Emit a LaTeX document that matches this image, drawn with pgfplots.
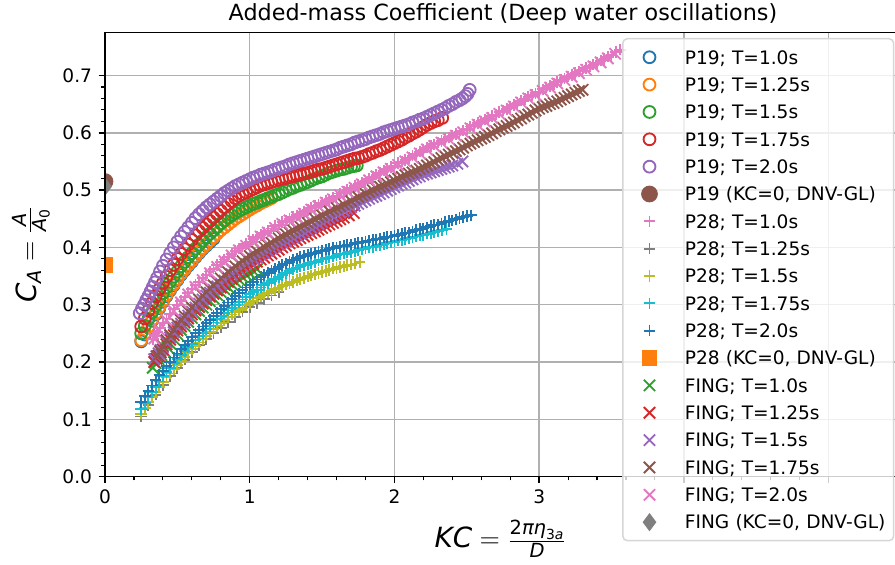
\documentclass[border=0pt]{standalone}
\usepackage{amsmath}
\usepackage{fontspec}
\setmainfont{DejaVu Sans}
\usepackage{pgfplots}
\pgfplotsset{compat=1.18}
\definecolor{tabblue}{HTML}{1F77B4}
\definecolor{taborange}{HTML}{FF7F0E}
\definecolor{tabgreen}{HTML}{2CA02C}
\definecolor{tabred}{HTML}{D62728}
\definecolor{tabpurple}{HTML}{9467BD}
\definecolor{tabbrown}{HTML}{8C564B}
\definecolor{tabpink}{HTML}{E377C2}
\definecolor{tabgray}{HTML}{7F7F7F}
\definecolor{tabolive}{HTML}{BCBD22}
\definecolor{tabcyan}{HTML}{17BECF}
\definecolor{gridgray}{HTML}{B0B0B0}
\definecolor{legedge}{HTML}{D6D6D6}
\pgfplotsset{
  lg/.style={only marks, line width=1pt,
    legend image code/.code={\path (-13.9pt,0pt) (13.9pt,0pt);
      \draw[##1, fill opacity=1, draw opacity=1, sharp corners] plot coordinates {(0pt,0pt)};}},
  circ/.style={lg, color=#1, mark=o, mark size=3.2pt},
  plus/.style={lg, color=#1, mark=+, mark size=3.1pt},
  cross/.style={lg, color=#1, mark=x, mark size=4.3pt},
}
\begin{document}
\begin{tikzpicture}
\begin{axis}[name=ax,
  scale only axis, width=429.0pt, height=239.5pt,
  xmin=0, xmax=5.5, ymin=0, ymax=0.7755,
  xtick={0,1,2,3,4,5}, xticklabels={0,1,2,3,{},{}},
  ytick={0,0.1,0.2,0.3,0.4,0.5,0.6,0.7},
  minor x tick num=4, minor y tick num=4,
  tick align=outside, tick pos=left,
  major tick length=3.5pt, minor tick length=2pt,
  tick style={black, line width=0.8pt},
  minor tick style={line width=0.6pt},
  axis line style={line width=0.8pt, black},
  grid=major,
  set layers=axis on top,
  major grid style={gridgray, line width=0.8pt, /pgfplots/on layer=axis background},
  clip marker paths=true,
  /pgf/number format/assume math mode=true,
  ticklabel style={font=\fontsize{10}{12}\selectfont},
  yticklabel style={/pgf/number format/fixed, /pgf/number format/fixed zerofill, /pgf/number format/precision=1},
  title={Added-mass Coefficient (Deep water oscillations)},
  title style={font=\fontsize{12}{14.4}\selectfont, anchor=base, at={(0.5,1)}, yshift=0.25pt, inner sep=0pt},
  xlabel={$\mathit{KC} = \frac{\text{2\itshape πη}_{\text{3\itshape a}}}{\mathit{D}}$},
  xlabel style={font=\fontsize{15}{18}\selectfont, at={(axis description cs:0.497,-0.1603)}, anchor=base, inner sep=0pt},
  ylabel={$\mathit{C}_{\text{\itshape A}} = \frac{\text{\itshape A}}{\text{\itshape A}_{\text{0}}}$},
  ylabel style={font=\fontsize{15}{18}\selectfont, at={(axis description cs:-0.069,0.5)}, anchor=south, inner sep=0pt},
  legend style={at={(0.6496,0.9872)}, anchor=north west, draw=legedge, line width=0.8pt,
    fill=white, fill opacity=0.8, draw opacity=1, text opacity=1, rounded corners=2.5pt,
    inner xsep=0pt, inner ysep=5pt, row sep=4.74pt, column sep=4.7pt,
    font=\fontsize{10}{12}\selectfont,
    nodes={inner sep=0pt, text height=8.65pt, text depth=1.35pt, text width=112.5pt, align=left},
    cells={anchor=center}},
]
% P19 circles
\addplot[circ=tabblue] coordinates {(0.25,0.236)(0.275,0.248)(0.3,0.26)(0.325,0.272)(0.35,0.283)(0.375,0.294)(0.4,0.305)(0.425,0.315)(0.45,0.325)(0.475,0.334)(0.5,0.343)(0.525,0.352)(0.55,0.36)(0.575,0.368)(0.6,0.375)(0.625,0.383)(0.65,0.39)(0.675,0.397)(0.7,0.403)(0.725,0.409)(0.75,0.415)};
\addlegendentry{P19; T=1.0s}
\addplot[circ=taborange] coordinates {(0.25,0.238)(0.275,0.25)(0.3,0.262)(0.325,0.274)(0.35,0.285)(0.375,0.296)(0.4,0.307)(0.425,0.317)(0.45,0.327)(0.475,0.336)(0.5,0.345)(0.525,0.354)(0.55,0.362)(0.575,0.37)(0.6,0.377)(0.625,0.385)(0.65,0.392)(0.675,0.399)(0.7,0.405)(0.725,0.412)(0.75,0.418)(0.775,0.424)(0.8,0.43)(0.825,0.435)(0.85,0.44)(0.875,0.445)(0.9,0.45)(0.925,0.454)(0.95,0.458)(0.975,0.462)(1.0,0.466)(1.025,0.47)(1.05,0.473)(1.075,0.477)(1.1,0.48)(1.125,0.483)(1.15,0.486)};
\addlegendentry{P19; T=1.25s}
\addplot[circ=tabgreen] coordinates {(0.25,0.25)(0.275,0.263)(0.3,0.275)(0.325,0.287)(0.35,0.298)(0.375,0.309)(0.4,0.32)(0.425,0.33)(0.45,0.34)(0.475,0.349)(0.5,0.358)(0.525,0.367)(0.55,0.375)(0.575,0.383)(0.6,0.39)(0.625,0.398)(0.65,0.405)(0.675,0.412)(0.7,0.418)(0.725,0.424)(0.75,0.43)(0.775,0.436)(0.8,0.442)(0.825,0.447)(0.85,0.452)(0.875,0.456)(0.9,0.46)(0.925,0.464)(0.95,0.467)(0.975,0.47)(1.0,0.473)(1.025,0.476)(1.05,0.478)(1.075,0.481)(1.1,0.483)(1.125,0.486)(1.15,0.488)(1.175,0.491)(1.2,0.493)(1.225,0.496)(1.25,0.499)(1.275,0.502)(1.3,0.504)(1.325,0.507)(1.35,0.509)(1.375,0.512)(1.4,0.514)(1.425,0.517)(1.45,0.52)(1.475,0.522)(1.5,0.524)(1.525,0.527)(1.55,0.53)(1.575,0.532)(1.6,0.534)(1.625,0.536)(1.65,0.537)(1.675,0.539)(1.7,0.541)(1.72,0.542)(1.74,0.543)};
\addlegendentry{P19; T=1.5s}
\addplot[circ=tabred] coordinates {(0.25,0.262)(0.275,0.276)(0.3,0.29)(0.325,0.303)(0.35,0.315)(0.375,0.327)(0.4,0.338)(0.425,0.349)(0.45,0.36)(0.475,0.37)(0.5,0.38)(0.525,0.389)(0.55,0.397)(0.575,0.405)(0.6,0.413)(0.625,0.421)(0.65,0.428)(0.675,0.434)(0.7,0.44)(0.725,0.446)(0.75,0.452)(0.775,0.458)(0.8,0.464)(0.825,0.47)(0.85,0.476)(0.875,0.481)(0.9,0.486)(0.925,0.49)(0.95,0.493)(0.975,0.496)(1.0,0.499)(1.025,0.502)(1.05,0.505)(1.075,0.508)(1.1,0.51)(1.125,0.512)(1.15,0.514)(1.175,0.516)(1.2,0.518)(1.225,0.52)(1.25,0.521)(1.275,0.523)(1.3,0.524)(1.325,0.526)(1.35,0.527)(1.375,0.529)(1.4,0.53)(1.425,0.532)(1.45,0.534)(1.475,0.536)(1.5,0.537)(1.525,0.539)(1.55,0.541)(1.575,0.543)(1.6,0.545)(1.625,0.547)(1.65,0.549)(1.675,0.551)(1.7,0.553)(1.725,0.555)(1.75,0.556)(1.775,0.558)(1.8,0.56)(1.825,0.563)(1.85,0.565)(1.875,0.568)(1.9,0.57)(1.925,0.573)(1.95,0.576)(1.975,0.579)(2.0,0.582)(2.025,0.585)(2.05,0.588)(2.075,0.592)(2.1,0.595)(2.125,0.599)(2.15,0.602)(2.175,0.606)(2.2,0.61)(2.225,0.614)(2.25,0.617)(2.275,0.62)(2.3,0.622)(2.33,0.626)};
\addlegendentry{P19; T=1.75s}
\addplot[circ=tabpurple] coordinates {(0.24,0.285)(0.255,0.293)(0.27,0.3)(0.285,0.308)(0.3,0.315)(0.315,0.323)(0.33,0.331)(0.345,0.339)(0.36,0.347)(0.38,0.358)(0.4,0.368)(0.425,0.379)(0.45,0.39)(0.475,0.4)(0.5,0.41)(0.525,0.419)(0.55,0.427)(0.575,0.435)(0.6,0.443)(0.625,0.451)(0.65,0.458)(0.675,0.464)(0.7,0.47)(0.725,0.475)(0.75,0.48)(0.775,0.485)(0.8,0.49)(0.825,0.495)(0.85,0.499)(0.875,0.503)(0.9,0.507)(0.925,0.51)(0.95,0.513)(0.975,0.516)(1.0,0.519)(1.025,0.522)(1.05,0.524)(1.075,0.527)(1.1,0.529)(1.125,0.531)(1.15,0.533)(1.175,0.536)(1.2,0.538)(1.225,0.54)(1.25,0.542)(1.275,0.545)(1.3,0.547)(1.325,0.549)(1.35,0.551)(1.375,0.553)(1.4,0.555)(1.425,0.557)(1.45,0.559)(1.475,0.561)(1.5,0.563)(1.525,0.565)(1.55,0.567)(1.575,0.569)(1.6,0.571)(1.625,0.574)(1.65,0.576)(1.675,0.578)(1.7,0.58)(1.725,0.583)(1.75,0.585)(1.775,0.587)(1.8,0.589)(1.825,0.592)(1.85,0.594)(1.875,0.596)(1.9,0.598)(1.925,0.601)(1.95,0.603)(1.975,0.605)(2.0,0.607)(2.025,0.609)(2.05,0.611)(2.075,0.613)(2.1,0.615)(2.125,0.618)(2.15,0.62)(2.175,0.623)(2.2,0.625)(2.225,0.628)(2.25,0.631)(2.275,0.634)(2.3,0.637)(2.325,0.64)(2.35,0.643)(2.375,0.647)(2.4,0.65)(2.425,0.654)(2.45,0.657)(2.47,0.66)(2.49,0.664)(2.505,0.668)(2.52,0.675)};
\addlegendentry{P19; T=2.0s}
\addplot[lg, color=tabbrown, mark=*, mark size=4pt] coordinates {(0,0.515)};
\addlegendentry{P19 (KC=0, DNV-GL)}
% P28 plus
\addplot[plus=tabpink] coordinates {(0.33,0.24)(0.345,0.246)(0.36,0.252)(0.38,0.26)(0.4,0.268)(0.425,0.276)(0.45,0.284)(0.475,0.292)(0.5,0.3)(0.525,0.307)(0.55,0.314)(0.575,0.321)(0.6,0.328)(0.625,0.334)(0.65,0.34)(0.675,0.346)(0.7,0.352)(0.725,0.358)(0.75,0.363)(0.775,0.369)(0.8,0.374)(0.825,0.379)(0.85,0.384)(0.875,0.389)(0.9,0.394)(0.925,0.398)(0.95,0.402)(0.975,0.406)(1.0,0.41)(1.025,0.414)(1.05,0.418)(1.075,0.422)(1.1,0.425)(1.125,0.429)(1.15,0.433)(1.175,0.437)(1.2,0.44)(1.225,0.444)(1.25,0.447)(1.275,0.45)(1.3,0.453)(1.325,0.456)(1.35,0.459)(1.375,0.462)(1.4,0.465)(1.425,0.469)(1.45,0.472)(1.475,0.475)(1.5,0.478)(1.525,0.481)(1.55,0.484)(1.575,0.487)(1.6,0.49)(1.625,0.494)(1.65,0.497)(1.675,0.5)(1.7,0.503)(1.725,0.507)(1.75,0.51)(1.775,0.513)(1.8,0.516)(1.825,0.52)(1.85,0.523)(1.875,0.527)(1.9,0.53)(1.925,0.534)(1.95,0.537)(1.975,0.54)(2.0,0.543)(2.025,0.547)(2.05,0.55)(2.075,0.553)(2.1,0.556)(2.125,0.56)(2.15,0.563)(2.175,0.567)(2.2,0.57)(2.225,0.574)(2.25,0.577)(2.275,0.58)(2.3,0.583)(2.325,0.586)(2.35,0.589)(2.375,0.592)(2.4,0.595)(2.425,0.598)(2.45,0.601)(2.475,0.604)(2.5,0.607)(2.525,0.611)(2.55,0.614)(2.575,0.617)(2.6,0.62)(2.625,0.623)(2.65,0.626)(2.675,0.629)(2.7,0.632)(2.725,0.636)(2.75,0.639)(2.775,0.642)(2.8,0.645)(2.825,0.649)(2.85,0.652)(2.875,0.656)(2.9,0.659)(2.925,0.663)(2.95,0.666)(2.975,0.669)(3.0,0.672)(3.025,0.676)(3.05,0.679)(3.075,0.682)(3.1,0.685)(3.125,0.689)(3.15,0.692)(3.175,0.695)(3.2,0.698)(3.225,0.701)(3.25,0.704)(3.275,0.707)(3.3,0.71)(3.325,0.713)(3.35,0.716)(3.375,0.719)(3.4,0.722)(3.425,0.726)(3.45,0.729)(3.475,0.733)(3.5,0.736)(3.53,0.741)(3.56,0.745)};
\addlegendentry{P28; T=1.0s}
\addplot[plus=tabgray] coordinates {(0.25,0.105)(0.3,0.125)(0.35,0.143)(0.4,0.16)(0.45,0.175)(0.5,0.19)(0.55,0.204)(0.6,0.217)(0.65,0.229)(0.7,0.24)(0.75,0.25)(0.8,0.26)(0.85,0.27)(0.9,0.279)(0.95,0.288)(1.0,0.296)(1.05,0.303)(1.1,0.31)(1.15,0.316)(1.2,0.322)};
\addlegendentry{P28; T=1.25s}
\addplot[plus=tabolive] coordinates {(0.25,0.11)(0.275,0.12)(0.3,0.13)(0.325,0.139)(0.35,0.148)(0.375,0.157)(0.4,0.165)(0.425,0.173)(0.45,0.18)(0.475,0.188)(0.5,0.195)(0.525,0.202)(0.55,0.209)(0.575,0.216)(0.6,0.222)(0.625,0.228)(0.65,0.234)(0.675,0.24)(0.7,0.246)(0.725,0.252)(0.75,0.257)(0.775,0.263)(0.8,0.268)(0.825,0.273)(0.85,0.278)(0.875,0.283)(0.9,0.287)(0.925,0.291)(0.95,0.295)(0.975,0.299)(1.0,0.303)(1.025,0.307)(1.05,0.311)(1.075,0.315)(1.1,0.318)(1.125,0.321)(1.15,0.324)(1.175,0.327)(1.2,0.33)(1.225,0.333)(1.25,0.335)(1.275,0.338)(1.3,0.34)(1.325,0.343)(1.35,0.345)(1.375,0.347)(1.4,0.349)(1.425,0.351)(1.45,0.353)(1.475,0.355)(1.5,0.357)(1.525,0.359)(1.55,0.361)(1.575,0.363)(1.6,0.364)(1.625,0.366)(1.65,0.367)(1.675,0.369)(1.7,0.37)(1.73,0.372)(1.76,0.375)};
\addlegendentry{P28; T=1.5s}
\addplot[plus=tabcyan] coordinates {(0.25,0.118)(0.275,0.128)(0.3,0.138)(0.325,0.148)(0.35,0.157)(0.375,0.166)(0.4,0.175)(0.425,0.183)(0.45,0.19)(0.475,0.198)(0.5,0.205)(0.525,0.212)(0.55,0.219)(0.575,0.226)(0.6,0.232)(0.625,0.239)(0.65,0.245)(0.675,0.251)(0.7,0.257)(0.725,0.263)(0.75,0.269)(0.775,0.275)(0.8,0.28)(0.825,0.285)(0.85,0.29)(0.875,0.295)(0.9,0.3)(0.925,0.305)(0.95,0.309)(0.975,0.314)(1.0,0.318)(1.025,0.322)(1.05,0.326)(1.075,0.33)(1.1,0.334)(1.125,0.338)(1.15,0.341)(1.175,0.345)(1.2,0.348)(1.225,0.352)(1.25,0.355)(1.275,0.359)(1.3,0.362)(1.325,0.365)(1.35,0.367)(1.375,0.369)(1.4,0.371)(1.425,0.373)(1.45,0.375)(1.475,0.377)(1.5,0.379)(1.525,0.381)(1.55,0.382)(1.575,0.384)(1.6,0.386)(1.625,0.388)(1.65,0.389)(1.675,0.391)(1.7,0.392)(1.725,0.394)(1.75,0.395)(1.775,0.397)(1.8,0.398)(1.825,0.4)(1.85,0.401)(1.875,0.403)(1.9,0.404)(1.925,0.406)(1.95,0.407)(1.975,0.409)(2.0,0.41)(2.025,0.412)(2.05,0.413)(2.075,0.415)(2.1,0.416)(2.125,0.418)(2.15,0.419)(2.175,0.421)(2.2,0.422)(2.225,0.424)(2.25,0.425)(2.275,0.427)(2.3,0.428)(2.33,0.43)(2.36,0.432)};
\addlegendentry{P28; T=1.75s}
\addplot[plus=tabblue] coordinates {(0.25,0.13)(0.275,0.14)(0.3,0.15)(0.325,0.159)(0.35,0.168)(0.375,0.177)(0.4,0.185)(0.425,0.193)(0.45,0.2)(0.475,0.208)(0.5,0.215)(0.525,0.222)(0.55,0.229)(0.575,0.236)(0.6,0.243)(0.625,0.25)(0.65,0.256)(0.675,0.262)(0.7,0.268)(0.725,0.274)(0.75,0.28)(0.775,0.286)(0.8,0.292)(0.825,0.298)(0.85,0.304)(0.875,0.31)(0.9,0.315)(0.925,0.32)(0.95,0.325)(0.975,0.33)(1.0,0.335)(1.025,0.34)(1.05,0.344)(1.075,0.348)(1.1,0.352)(1.125,0.356)(1.15,0.359)(1.175,0.363)(1.2,0.366)(1.225,0.369)(1.25,0.372)(1.275,0.375)(1.3,0.378)(1.325,0.381)(1.35,0.383)(1.375,0.385)(1.4,0.387)(1.425,0.389)(1.45,0.391)(1.475,0.393)(1.5,0.394)(1.525,0.396)(1.55,0.397)(1.575,0.399)(1.6,0.4)(1.625,0.402)(1.65,0.403)(1.675,0.404)(1.7,0.405)(1.725,0.407)(1.75,0.408)(1.775,0.409)(1.8,0.41)(1.825,0.412)(1.85,0.413)(1.875,0.414)(1.9,0.415)(1.925,0.417)(1.95,0.418)(1.975,0.419)(2.0,0.42)(2.025,0.422)(2.05,0.423)(2.075,0.425)(2.1,0.426)(2.125,0.428)(2.15,0.43)(2.175,0.432)(2.2,0.433)(2.225,0.435)(2.25,0.437)(2.275,0.439)(2.3,0.44)(2.325,0.442)(2.35,0.444)(2.375,0.446)(2.4,0.447)(2.425,0.449)(2.45,0.451)(2.475,0.453)(2.5,0.455)(2.53,0.456)};
\addlegendentry{P28; T=2.0s}
\addplot[lg, color=taborange, mark=square*, mark size=3.8pt] coordinates {(0,0.37)};
\addlegendentry{P28 (KC=0, DNV-GL)}
% FING crosses
\addplot[cross=tabgreen] coordinates {(0.33,0.19)(0.35,0.198)(0.37,0.205)(0.39,0.212)(0.41,0.219)(0.43,0.226)(0.45,0.232)(0.475,0.24)(0.5,0.248)(0.525,0.256)(0.55,0.263)(0.575,0.27)(0.6,0.277)(0.625,0.283)(0.65,0.289)(0.675,0.295)(0.7,0.3)(0.725,0.306)(0.75,0.311)(0.775,0.317)(0.8,0.322)(0.825,0.327)(0.85,0.331)(0.875,0.336)(0.9,0.34)(0.925,0.344)(0.95,0.348)(0.975,0.352)(1.0,0.355)(1.025,0.359)(1.05,0.362)};
\addlegendentry{FING; T=1.0s}
\addplot[cross=tabred] coordinates {(0.34,0.2)(0.355,0.206)(0.37,0.211)(0.385,0.217)(0.4,0.222)(0.425,0.231)(0.45,0.239)(0.475,0.247)(0.5,0.255)(0.525,0.262)(0.55,0.269)(0.575,0.276)(0.6,0.283)(0.625,0.29)(0.65,0.296)(0.675,0.302)(0.7,0.308)(0.725,0.314)(0.75,0.319)(0.775,0.325)(0.8,0.33)(0.825,0.335)(0.85,0.34)(0.875,0.345)(0.9,0.35)(0.925,0.355)(0.95,0.359)(0.975,0.363)(1.0,0.367)(1.025,0.371)(1.05,0.375)(1.075,0.379)(1.1,0.382)(1.125,0.386)(1.15,0.389)(1.175,0.393)(1.2,0.396)(1.225,0.4)(1.25,0.403)(1.275,0.407)(1.3,0.41)(1.325,0.413)(1.35,0.416)(1.375,0.419)(1.4,0.422)(1.425,0.425)(1.45,0.428)(1.475,0.431)(1.5,0.434)(1.525,0.437)(1.55,0.44)(1.575,0.443)(1.6,0.446)(1.625,0.449)(1.65,0.452)(1.685,0.456)(1.72,0.46)};
\addlegendentry{FING; T=1.25s}
\addplot[cross=tabpurple] coordinates {(0.34,0.205)(0.355,0.21)(0.37,0.215)(0.385,0.221)(0.4,0.226)(0.425,0.234)(0.45,0.243)(0.475,0.252)(0.5,0.26)(0.525,0.267)(0.55,0.274)(0.575,0.281)(0.6,0.288)(0.625,0.295)(0.65,0.302)(0.675,0.309)(0.7,0.316)(0.725,0.321)(0.75,0.326)(0.775,0.332)(0.8,0.337)(0.825,0.342)(0.85,0.347)(0.875,0.353)(0.9,0.358)(0.925,0.362)(0.95,0.367)(0.975,0.371)(1.0,0.376)(1.025,0.38)(1.05,0.383)(1.075,0.387)(1.1,0.39)(1.125,0.394)(1.15,0.398)(1.175,0.401)(1.2,0.405)(1.225,0.408)(1.25,0.411)(1.275,0.414)(1.3,0.417)(1.325,0.421)(1.35,0.424)(1.375,0.427)(1.4,0.43)(1.425,0.434)(1.45,0.437)(1.475,0.441)(1.5,0.444)(1.525,0.448)(1.55,0.451)(1.575,0.455)(1.6,0.458)(1.625,0.461)(1.65,0.464)(1.675,0.467)(1.7,0.47)(1.725,0.473)(1.75,0.476)(1.775,0.479)(1.8,0.482)(1.825,0.485)(1.85,0.488)(1.875,0.49)(1.9,0.493)(1.925,0.496)(1.95,0.499)(1.975,0.502)(2.0,0.505)(2.025,0.508)(2.05,0.511)(2.075,0.513)(2.1,0.516)(2.125,0.519)(2.15,0.522)(2.175,0.524)(2.2,0.527)(2.225,0.529)(2.25,0.531)(2.275,0.533)(2.3,0.535)(2.325,0.537)(2.35,0.539)(2.375,0.541)(2.4,0.543)(2.435,0.546)(2.47,0.55)};
\addlegendentry{FING; T=1.5s}
\addplot[cross=tabbrown] coordinates {(0.36,0.21)(0.38,0.219)(0.4,0.228)(0.425,0.238)(0.45,0.247)(0.475,0.256)(0.5,0.265)(0.525,0.273)(0.55,0.28)(0.575,0.288)(0.6,0.295)(0.625,0.302)(0.65,0.309)(0.675,0.316)(0.7,0.322)(0.725,0.328)(0.75,0.334)(0.775,0.34)(0.8,0.346)(0.825,0.352)(0.85,0.357)(0.875,0.362)(0.9,0.367)(0.925,0.372)(0.95,0.376)(0.975,0.381)(1.0,0.385)(1.025,0.389)(1.05,0.393)(1.075,0.397)(1.1,0.401)(1.125,0.404)(1.15,0.408)(1.175,0.412)(1.2,0.416)(1.225,0.419)(1.25,0.423)(1.275,0.426)(1.3,0.43)(1.325,0.433)(1.35,0.436)(1.375,0.44)(1.4,0.443)(1.425,0.446)(1.45,0.45)(1.475,0.453)(1.5,0.456)(1.525,0.459)(1.55,0.463)(1.575,0.466)(1.6,0.469)(1.625,0.472)(1.65,0.475)(1.675,0.478)(1.7,0.481)(1.725,0.485)(1.75,0.488)(1.775,0.491)(1.8,0.494)(1.825,0.497)(1.85,0.5)(1.875,0.503)(1.9,0.506)(1.925,0.508)(1.95,0.511)(1.975,0.514)(2.0,0.517)(2.025,0.52)(2.05,0.523)(2.075,0.526)(2.1,0.529)(2.125,0.531)(2.15,0.534)(2.175,0.537)(2.2,0.54)(2.225,0.543)(2.25,0.546)(2.275,0.549)(2.3,0.553)(2.325,0.556)(2.35,0.559)(2.375,0.562)(2.4,0.565)(2.425,0.568)(2.45,0.571)(2.475,0.574)(2.5,0.578)(2.525,0.581)(2.55,0.584)(2.575,0.587)(2.6,0.59)(2.625,0.593)(2.65,0.596)(2.675,0.599)(2.7,0.603)(2.725,0.606)(2.75,0.609)(2.775,0.612)(2.8,0.615)(2.825,0.618)(2.85,0.622)(2.875,0.625)(2.9,0.629)(2.925,0.632)(2.95,0.635)(2.975,0.639)(3.0,0.642)(3.025,0.645)(3.05,0.647)(3.075,0.65)(3.1,0.652)(3.125,0.655)(3.15,0.658)(3.175,0.661)(3.2,0.664)(3.225,0.667)(3.25,0.67)(3.275,0.673)(3.3,0.675)};
\addlegendentry{FING; T=1.75s}
\addplot[cross=tabpink] coordinates {(0.34,0.241)(0.375,0.256)(0.425,0.273)(0.475,0.289)(0.525,0.304)(0.575,0.318)(0.625,0.331)(0.675,0.343)(0.725,0.355)(0.775,0.366)(0.825,0.376)(0.875,0.386)(0.925,0.395)(0.975,0.403)(1.025,0.411)(1.075,0.419)(1.125,0.426)(1.175,0.434)(1.225,0.441)(1.275,0.447)(1.325,0.453)(1.375,0.459)(1.425,0.466)(1.475,0.472)(1.525,0.478)(1.575,0.484)(1.625,0.491)(1.675,0.497)(1.725,0.504)(1.775,0.51)(1.825,0.517)(1.875,0.524)(1.925,0.531)(1.975,0.537)(2.025,0.544)(2.075,0.55)(2.125,0.557)(2.175,0.564)(2.225,0.571)(2.275,0.577)(2.325,0.583)(2.375,0.589)(2.425,0.595)(2.475,0.601)(2.525,0.608)(2.575,0.614)(2.625,0.62)(2.675,0.626)(2.725,0.633)(2.775,0.639)(2.825,0.646)(2.875,0.653)(2.925,0.66)(2.975,0.666)(3.025,0.673)(3.075,0.679)(3.125,0.686)(3.175,0.692)(3.225,0.698)(3.275,0.704)(3.325,0.71)(3.375,0.716)(3.425,0.723)(3.475,0.73)(3.525,0.738)};
\addlegendentry{FING; T=2.0s}
\addplot[lg, color=tabgray, mark=diamond*, mark size=4.1pt] coordinates {(0,0.506)};
\addlegendentry{FING (KC=0, DNV-GL)}
\end{axis}
\pgfresetboundingbox
\useasboundingbox ([shift={(-56.6pt,-47.6pt)}]ax.south west) rectangle ([shift={(425.8pt,256.9pt)}]ax.south west);
\end{tikzpicture}
\end{document}
